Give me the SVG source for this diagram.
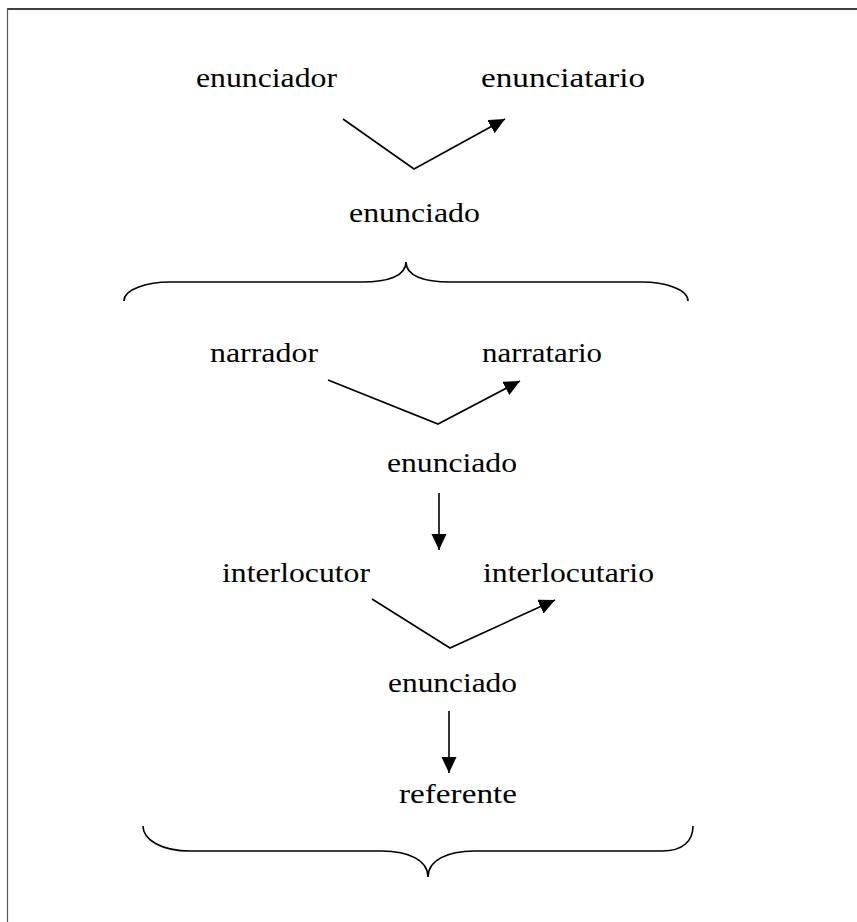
<svg xmlns="http://www.w3.org/2000/svg" width="857" height="922" viewBox="0 0 857 922">
<defs>
<style>
.ln{fill:none;stroke:#000;stroke-width:1.6}
.br{fill:none;stroke:#000;stroke-width:1.6}
</style>
<marker id="ah" markerUnits="userSpaceOnUse" markerWidth="18" markerHeight="16" refX="16" refY="7.5" orient="auto">
<path d="M0,0 L16,7.5 L0,15 Z" fill="#000"/>
</marker>
</defs>
<rect width="857" height="922" fill="#fff"/>
<g id="frame">
<line x1="7" y1="9" x2="857" y2="9" stroke="#000" stroke-width="1.5"/>
<line x1="7.5" y1="9" x2="7.5" y2="922" stroke="#555" stroke-width="1.2"/>
</g>
<g font-family="'Liberation Serif', 'Times New Roman', Times, serif" font-size="28" fill="#000">
<g id="n-enunciador"><text x="196" y="87" textLength="141" lengthAdjust="spacingAndGlyphs">enunciador</text></g>
<g id="n-enunciatario"><text x="481" y="87" textLength="164" lengthAdjust="spacingAndGlyphs">enunciatario</text></g>
<g id="n-enunciado1"><text x="349" y="222" textLength="131" lengthAdjust="spacingAndGlyphs">enunciado</text></g>
<g id="n-narrador"><text x="210" y="362" textLength="108" lengthAdjust="spacingAndGlyphs">narrador</text></g>
<g id="n-narratario"><text x="482" y="362" textLength="120" lengthAdjust="spacingAndGlyphs">narratario</text></g>
<g id="n-enunciado2"><text x="387" y="472" textLength="130" lengthAdjust="spacingAndGlyphs">enunciado</text></g>
<g id="n-interlocutor"><text x="222" y="582" textLength="148" lengthAdjust="spacingAndGlyphs">interlocutor</text></g>
<g id="n-interlocutario"><text x="483" y="582" textLength="171" lengthAdjust="spacingAndGlyphs">interlocutario</text></g>
<g id="n-enunciado3"><text x="388" y="692" textLength="129" lengthAdjust="spacingAndGlyphs">enunciado</text></g>
<g id="n-referente"><text x="399" y="803" textLength="118" lengthAdjust="spacingAndGlyphs">referente</text></g>
</g>
<g id="braces">
<path class="br" d="M124,301 C124,289 148,282 170,282 L362,282 C388,282 406,276 406,262 C406,276 424,282 450,282 L642,282 C664,282 688,289 688,301"/>
<path class="br" d="M143,826 C143,840 162,851 190,851 L382,851 C408,851 428,860 428,877 C428,860 448,851 474,851 L662,851 C684,851 693,840 693,826"/>
</g>
<g id="connectors">
<polyline class="ln" points="343,119 414,169 505,119" marker-end="url(#ah)"/>
<polyline class="ln" points="328,380 438,424 520,381" marker-end="url(#ah)"/>
<line class="ln" x1="439" y1="493" x2="439" y2="550" marker-end="url(#ah)"/>
<polyline class="ln" points="372,599 450,648 555,600" marker-end="url(#ah)"/>
<line class="ln" x1="449" y1="711" x2="449" y2="773" marker-end="url(#ah)"/>
</g>
</svg>
